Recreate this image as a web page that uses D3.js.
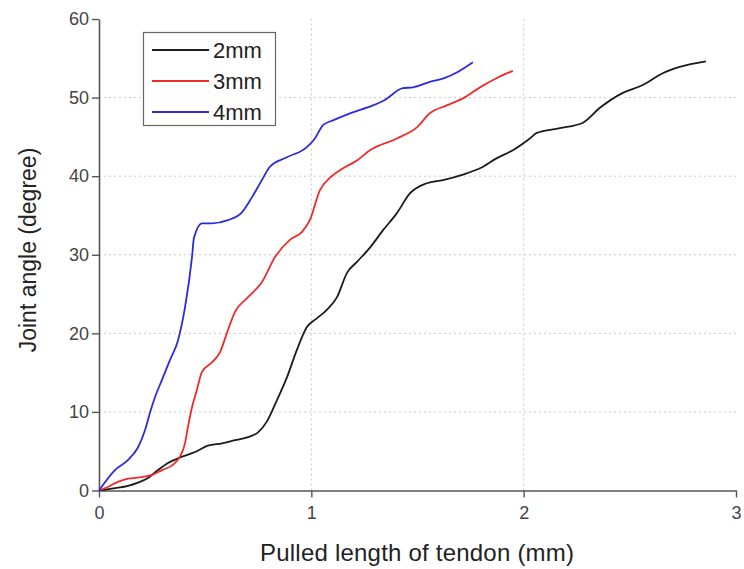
<!DOCTYPE html>
<html>
<head>
<meta charset="utf-8">
<script src="https://cdn.jsdelivr.net/npm/d3@7"></script>
<style>
  body { margin: 0; background: #fff; }
  text { font-family: "Liberation Sans", Arial, sans-serif; }
</style>
</head>
<body>
<script>
// pulled length (mm) vs joint angle (degree)
var x2mm = [0, 0.075, 0.137, 0.184, 0.231, 0.278, 0.325, 0.391, 0.452, 0.513, 0.579, 0.640, 0.702, 0.749, 0.791, 0.838, 0.885, 0.932, 0.979, 1.026, 1.073, 1.121, 1.168, 1.215, 1.276, 1.337, 1.403, 1.464, 1.544, 1.620, 1.714, 1.794, 1.874, 1.949, 2.029, 2.062, 2.170, 2.279, 2.359, 2.467, 2.561, 2.655, 2.735, 2.858];
var y2mm = [0, 0.3, 0.6, 1.0, 1.6, 2.6, 3.5, 4.3, 4.9, 5.7, 6.0, 6.4, 6.8, 7.4, 8.8, 11.5, 14.4, 17.9, 20.8, 21.9, 23.0, 24.6, 27.7, 29.1, 30.9, 33.1, 35.3, 37.8, 39.1, 39.5, 40.2, 41.0, 42.3, 43.3, 44.8, 45.5, 46.1, 46.8, 48.7, 50.6, 51.6, 53.1, 53.9, 54.6];

var x3mm = [0, 0.042, 0.089, 0.137, 0.202, 0.250, 0.297, 0.344, 0.381, 0.405, 0.419, 0.438, 0.461, 0.485, 0.532, 0.570, 0.607, 0.640, 0.702, 0.767, 0.829, 0.899, 0.956, 0.993, 1.040, 1.088, 1.149, 1.215, 1.276, 1.403, 1.497, 1.558, 1.638, 1.714, 1.794, 1.874, 1.949];
var y3mm = [0, 0.45, 1.1, 1.5, 1.7, 2.0, 2.6, 3.2, 4.3, 6.0, 8.1, 10.6, 12.8, 15.1, 16.3, 17.6, 20.4, 22.7, 24.6, 26.5, 29.7, 31.9, 32.9, 34.4, 38.2, 39.8, 41.0, 42.0, 43.3, 44.8, 46.2, 48.0, 49.0, 49.9, 51.3, 52.5, 53.4];

var x4mm = [0, 0.075, 0.137, 0.184, 0.217, 0.240, 0.264, 0.297, 0.334, 0.372, 0.405, 0.438, 0.447, 0.485, 0.532, 0.607, 0.673, 0.720, 0.767, 0.805, 0.885, 0.979, 1.017, 1.055, 1.102, 1.182, 1.290, 1.346, 1.431, 1.478, 1.558, 1.629, 1.685, 1.761];
var y4mm = [0, 2.6, 3.9, 5.5, 7.7, 9.9, 11.9, 14.1, 16.6, 19.1, 23.3, 29.7, 32.1, 34.0, 34.0, 34.4, 35.4, 37.3, 39.5, 41.2, 42.4, 43.7, 44.8, 46.5, 47.1, 48.0, 49.0, 49.7, 51.2, 51.3, 52.0, 52.5, 53.2, 54.5];

var seriesNames = ["2mm", "3mm", "4mm"];
var seriesColors = ["#1b1b1b", "#ee2b2b", "#2b2bdd"];
var xTicks = [0, 1, 2, 3];
var yTicks = [0, 10, 20, 30, 40, 50, 60];

var W = 744, H = 569;
var margin = {top: 19, right: 8, bottom: 78.5, left: 99};

var svg = d3.select("body").append("svg")
    .attr("width", W)
    .attr("height", H);

var x = d3.scaleLinear().domain([0, 3]).range([margin.left, W - margin.right]);
var y = d3.scaleLinear().domain([0, 60]).range([H - margin.bottom, margin.top]);

// dotted grid
svg.append("g").selectAll("line")
    .data([1, 2])
    .enter().append("line")
    .attr("x1", function(d){ return x(d); })
    .attr("x2", function(d){ return x(d); })
    .attr("y1", y(0))
    .attr("y2", y(60))
    .attr("stroke", "#c8c8c8")
    .attr("stroke-width", 1)
    .attr("stroke-dasharray", "2,3");

svg.append("g").selectAll("line")
    .data([10, 20, 30, 40, 50])
    .enter().append("line")
    .attr("x1", x(0))
    .attr("x2", x(3))
    .attr("y1", function(d){ return y(d); })
    .attr("y2", function(d){ return y(d); })
    .attr("stroke", "#c8c8c8")
    .attr("stroke-width", 1)
    .attr("stroke-dasharray", "2,3");

// axes
var xAxis = svg.append("g")
    .attr("transform", "translate(0," + y(0) + ")")
    .call(d3.axisBottom(x).tickValues(xTicks).tickFormat(d3.format("d")).tickSize(7).tickSizeOuter(0));
var yAxis = svg.append("g")
    .attr("transform", "translate(" + x(0) + ",0)")
    .call(d3.axisLeft(y).tickValues(yTicks).tickSize(7).tickSizeOuter(0));

[xAxis, yAxis].forEach(function(a){
    a.select(".domain").attr("stroke", "#555").attr("stroke-width", 1.6);
    a.selectAll(".tick line").attr("stroke", "#555").attr("stroke-width", 1.4);
    a.selectAll(".tick text")
        .attr("fill", "#444")
        .style("font-size", "18px")
        .style("font-family", "'Liberation Sans', Arial, sans-serif");
});
xAxis.selectAll(".tick text").attr("dy", "1.05em");
yAxis.selectAll(".tick text").attr("x", -10);

// axis titles
svg.append("text")
    .attr("x", 417)
    .attr("y", 561)
    .attr("text-anchor", "middle")
    .attr("fill", "#222")
    .attr("textLength", 314)
    .style("font-size", "24px")
    .text("Pulled length of tendon (mm)");

svg.append("text")
    .attr("transform", "translate(36,250) rotate(-90)")
    .attr("text-anchor", "middle")
    .attr("fill", "#222")
    .style("font-size", "23px")
    .text("Joint angle (degree)");

// lines
var line = d3.line()
    .x(function(d){ return x(d[0]); })
    .y(function(d){ return y(d[1]); })
    .curve(d3.curveMonotoneX);

var seriesX = [x2mm, x3mm, x4mm];
var seriesY = [y2mm, y3mm, y4mm];
var series = seriesNames.map(function(n, i){
    return { name: n, color: seriesColors[i], pts: d3.zip(seriesX[i], seriesY[i]) };
});

svg.append("g").selectAll("path")
    .data(series)
    .enter().append("path")
    .attr("d", function(d){ return line(d.pts); })
    .attr("fill", "none")
    .attr("stroke", function(d){ return d.color; })
    .attr("stroke-width", 1.8)
    .attr("stroke-linejoin", "round");

// legend
var legend = svg.append("g");
legend.append("rect")
    .attr("x", 143.5)
    .attr("y", 32.5)
    .attr("width", 132)
    .attr("height", 93)
    .attr("fill", "#fff")
    .attr("stroke", "#666")
    .attr("stroke-width", 1.2);

var items = legend.selectAll("g.item")
    .data(series)
    .enter().append("g")
    .attr("class", "item")
    .attr("transform", function(d, i){ return "translate(0," + (50 + i * 31) + ")"; });
items.append("line")
    .attr("x1", 152).attr("x2", 209)
    .attr("y1", 0).attr("y2", 0)
    .attr("stroke", function(d){ return d.color; })
    .attr("stroke-width", 1.8);
items.append("text")
    .attr("x", 213)
    .attr("y", 8)
    .attr("fill", "#222")
    .style("font-size", "22px")
    .text(function(d){ return d.name; });
</script>
</body>
</html>
